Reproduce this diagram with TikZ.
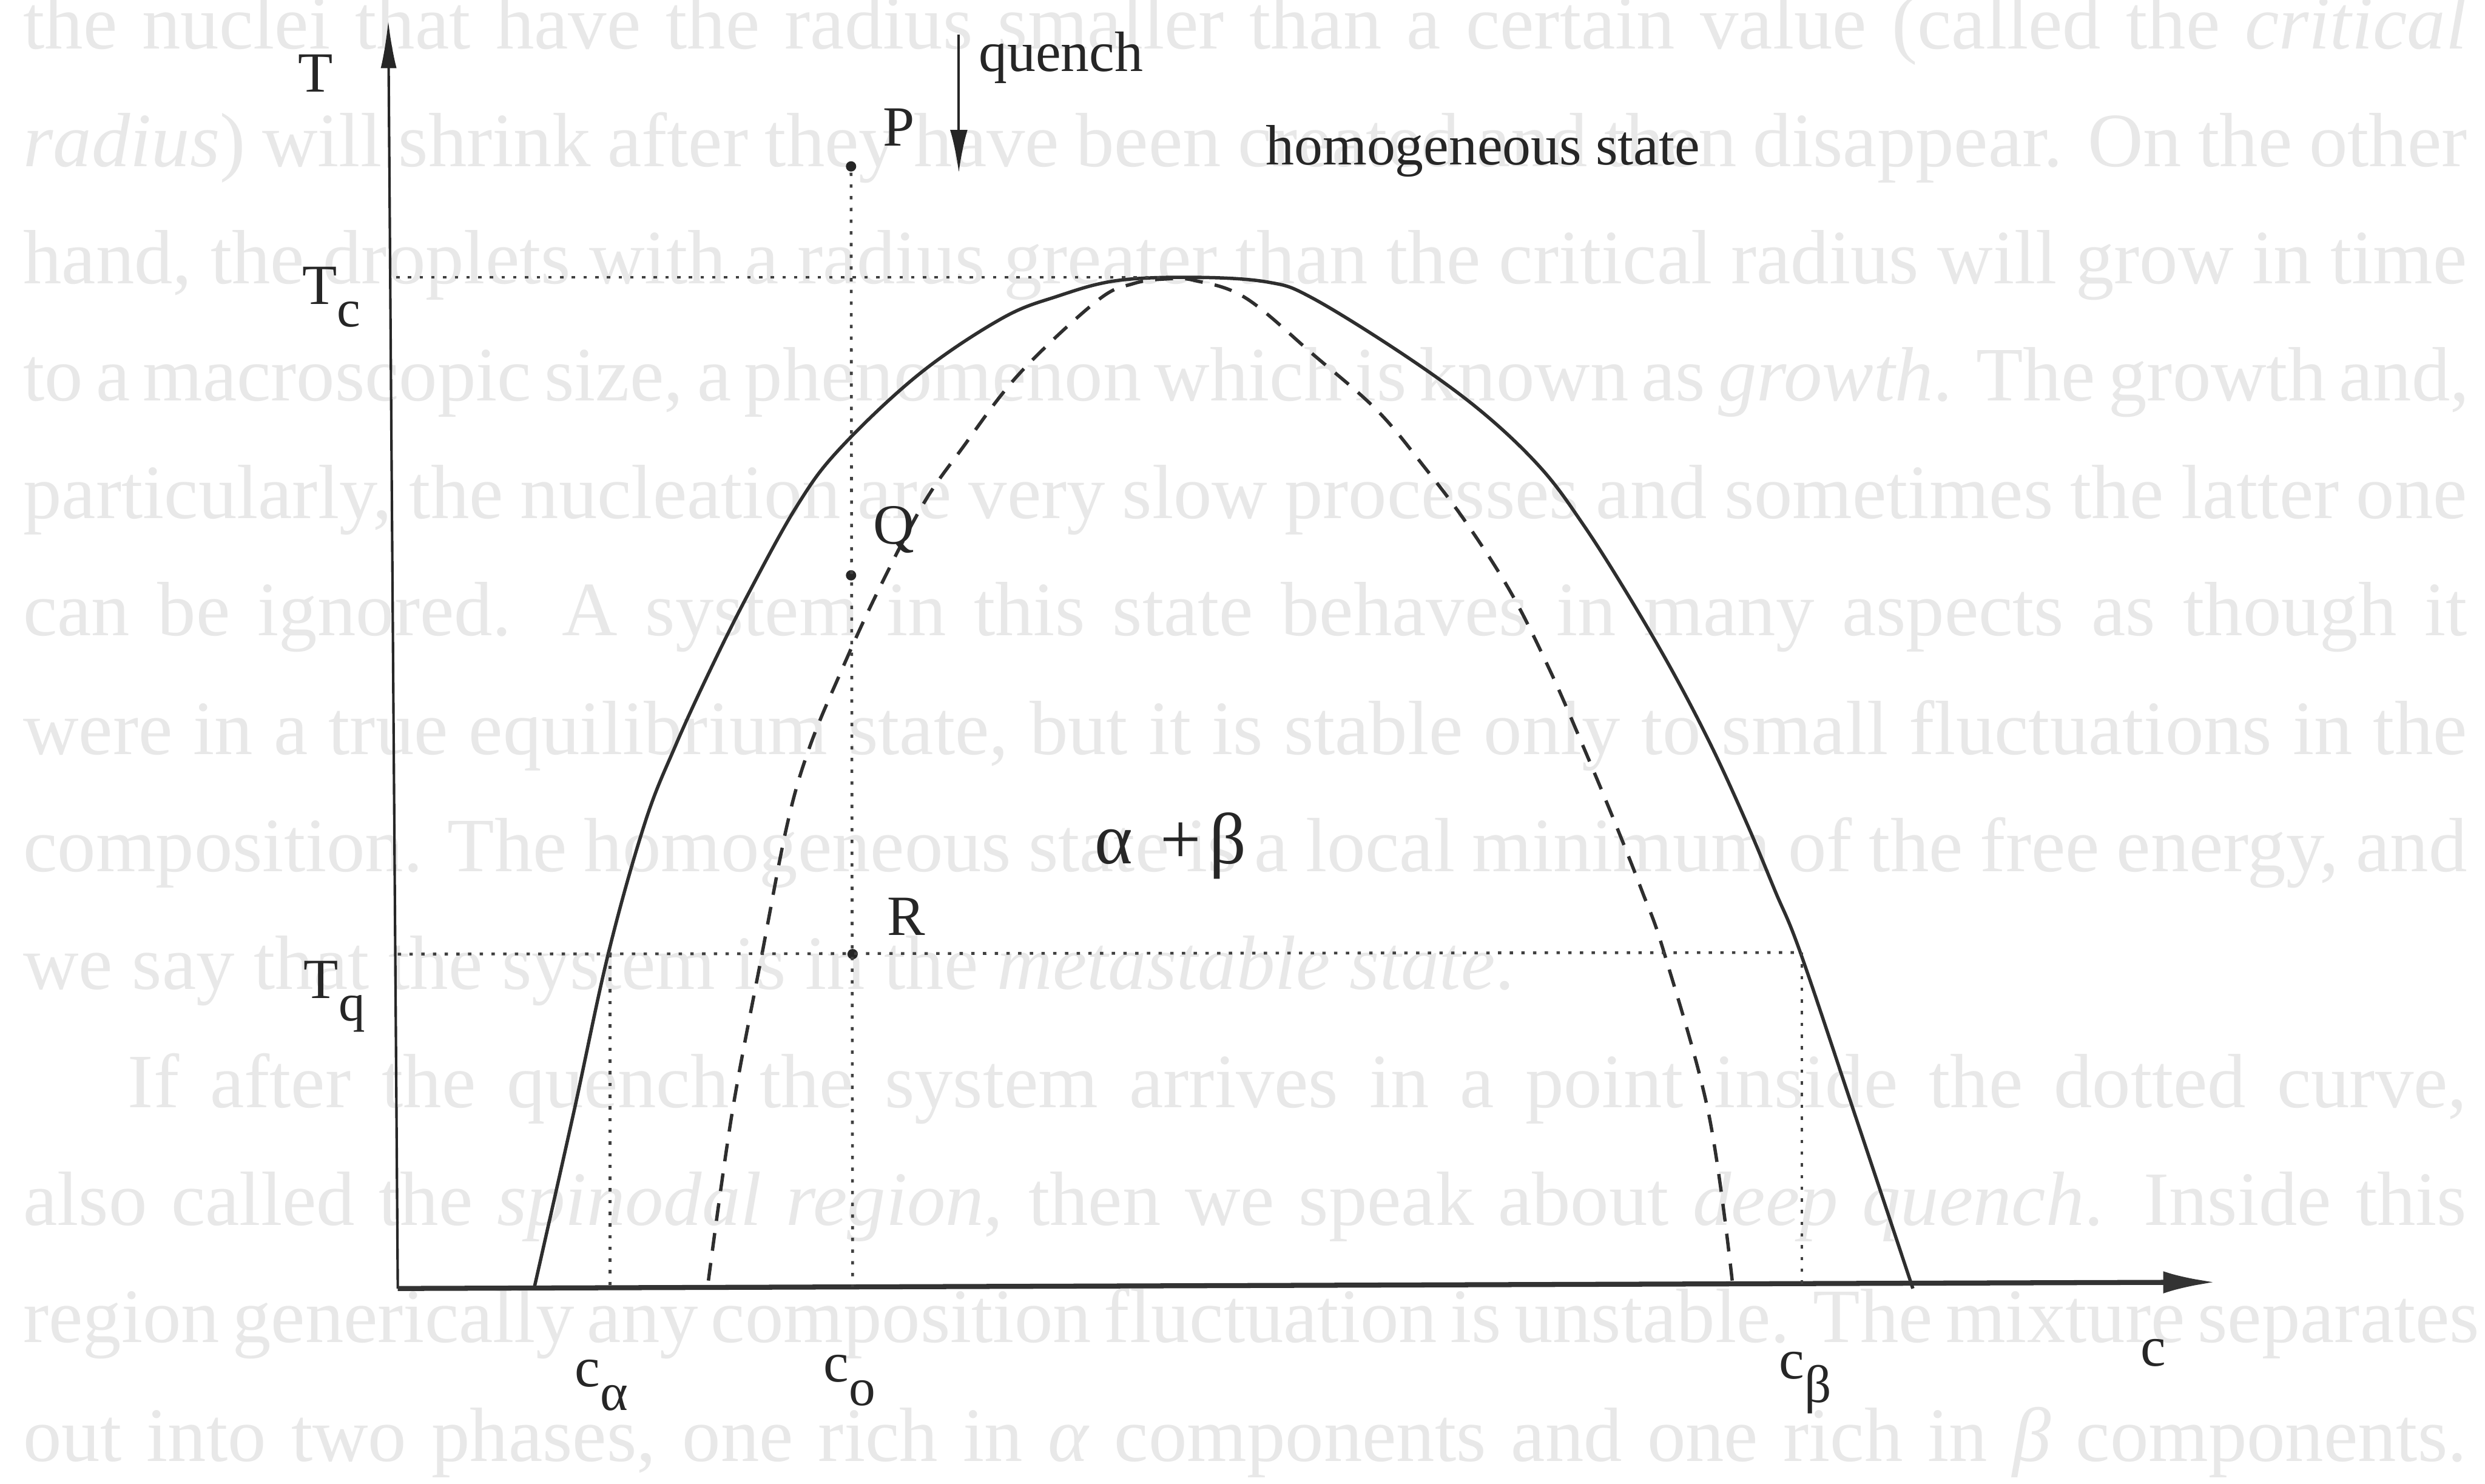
\documentclass[tikz,border=0pt]{standalone}
\usepackage{fontspec}
\setmainfont{Liberation Serif}
\usetikzlibrary{arrows.meta}
\begin{document}
\begin{tikzpicture}[x=0.01cm,y=-0.01cm,
  lbl/.style={inner sep=0pt, font=\fontsize{10.2}{12}\selectfont, text=black!85},
  bg/.style={inner sep=0pt, anchor=base west, text=black!9, font=\fontsize{13.8}{16}\selectfont},
  yaxis/.style={draw=black!85, line width=0.45pt, -{Latex[length=0.3cm,width=0.1cm]}},
  xaxis/.style={draw=black!80, line width=0.9pt, -{Latex[length=0.33cm,width=0.14cm]}},
  quencharrow/.style={draw=black!85, line width=0.45pt, -{Latex[length=0.27cm,width=0.11cm]}},
  binodal/.style={draw=black!82, line width=0.6pt},
  spinodal/.style={draw=black!82, line width=0.6pt, dash pattern=on 3.2pt off 2.2pt},
  guide/.style={draw=black!75, line width=0.5pt, dash pattern=on 0.6pt off 1.5pt},
  dotpt/.style={circle, fill=black!85, inner sep=0pt, minimum size=0.065cm},
]
\useasboundingbox (0,0) rectangle (1568,936);
\fill[white] (0,0) rectangle (1568,936);

% faded page text behind the figure
\node[bg] (bg1) at (14,31) {\makebox[15.41cm][s]{the nuclei that have the radius smaller than a certain value (called the \textit{critical}}};
\node[bg] (bg2) at (14,105) {\makebox[15.41cm][s]{\textit{radius}) will shrink after they have been created and then disappear. On the other}};
\node[bg] (bg3) at (14,179) {\makebox[15.41cm][s]{hand, the droplets with a radius greater than the critical radius will grow in time}};
\node[bg] (bg4) at (14,253) {\makebox[15.41cm][s]{to a macroscopic size, a phenomenon which is known as \textit{growth}. The growth and,}};
\node[bg] (bg5) at (14,327) {\makebox[15.41cm][s]{particularly, the nucleation are very slow processes and sometimes the latter one}};
\node[bg] (bg6) at (14,401) {\makebox[15.41cm][s]{can be ignored. A system in this state behaves in many aspects as though it}};
\node[bg] (bg7) at (14,476) {\makebox[15.41cm][s]{were in a true equilibrium state, but it is stable only to small fluctuations in the}};
\node[bg] (bg8) at (14,550) {\makebox[15.41cm][s]{composition. The homogeneous state is a local minimum of the free energy, and}};
\node[bg] (bg9) at (14,624) {we say that the system is in the \textit{metastable state}.};
\node[bg] (bg10) at (80,699) {\makebox[14.75cm][s]{If after the quench the system arrives in a point inside the dotted curve,}};
\node[bg] (bg11) at (14,773) {\makebox[15.41cm][s]{also called the \textit{spinodal region}, then we speak about \textit{deep quench}. Inside this}};
\node[bg] (bg12) at (14,847) {\makebox[15.41cm][s]{region generically any composition fluctuation is unstable. The mixture separates}};
\node[bg] (bg13) at (14,922) {\makebox[15.41cm][s]{out into two phases, one rich in \textit{α} components and one rich in \textit{β} components.}};

% coordinates
\coordinate (O) at (251,813);
\coordinate (Ytop) at (245,13);
\coordinate (Xend) at (1398,809);
\coordinate (TcL) at (250,175);
\coordinate (TcR) at (732,175);
\coordinate (TqL) at (251,602);
\coordinate (TqR) at (1137,601);
\coordinate (ca) at (385,812);
\coordinate (caT) at (385,602);
\coordinate (cb) at (1137,810);
\coordinate (co) at (538,812);
\coordinate (qtop) at (605,22);
\coordinate (qtip) at (605,109);

% binodal (solid)
\draw[binodal] plot[smooth, tension=0.6] coordinates {
 (337,813) (362,702) (384,601) (407,519) (426,471) (448,423)
 (472,375) (503,319) (530,283) (580,236) (632,201) (667,187) (705,177) (755,175)
 (800,178) (828,188) (886,224) (934,259) (972,295) (999,331) (1027,375) (1055,423)
 (1080,471) (1102,519) (1120,562) (1136,601) (1170,702) (1207,813)};

% spinodal (dashed)
\draw[spinodal] plot[smooth, tension=0.6] coordinates {
 (447,808) (462,702) (481,601) (497,519) (511,471) (531,423) (553,375)
 (582,319) (607,283) (643,236) (692,190) (715,179) (736,176) (754,177) (786,188)
 (829,224) (869,259) (899,295) (926,331) (954,375) (978,423) (999,471) (1019,519)
 (1036,562) (1050,601) (1078,702) (1093,808)};

% axes
\draw[yaxis] (O) -- (Ytop);
\draw[xaxis] (O) -- (Xend);

% points
\node[dotpt] (P) at (537,105) {};
\node[dotpt] (Q) at (537,363) {};
\node[dotpt] (R) at (538,602) {};

% guide lines
\draw[guide] (TcL) -- (TcR);
\draw[guide] (TqL) -- (TqR);
\draw[guide] (P) -- (co);
\draw[guide] (caT) -- (ca);
\draw[guide] (TqR) -- (cb);

% quench arrow
\draw[quencharrow] (qtop) -- (qtip);

% labels
\node[lbl, anchor=base] (Tlab) at (199,58) {T};
\node[lbl, anchor=base west] (Tclab) at (190,192) {T\raisebox{-0.85ex}{\fontsize{9.5}{10}\selectfont c}};
\node[lbl, anchor=base west] (Tqlab) at (191,630) {T\raisebox{-0.85ex}{\fontsize{9.5}{10}\selectfont q}};
\node[lbl, anchor=base west] (quenchlab) at (617,45) {quench};
\node[lbl, anchor=base] (Plab) at (567,92) {P};
\node[lbl, anchor=base west] (homlab) at (798,104) {homogeneous state};
\node[lbl, anchor=base] (Qlab) at (564,343) {Q};
\node[lbl, anchor=base] (Rlab) at (572,590) {R};
\node[lbl, anchor=base west, font=\fontsize{13}{15}\selectfont] (ablab) at (690,545) {α\hspace{5pt}+\hspace{1.5pt}β};
\node[lbl, anchor=base west] (calab) at (362,875) {c\raisebox{-0.9ex}{\fontsize{9.5}{10}\selectfont α}};
\node[lbl, anchor=base west] (colab) at (519,872) {c\raisebox{-0.9ex}{\fontsize{9.5}{10}\selectfont o}};
\node[lbl, anchor=base west] (cblab) at (1122,870) {c\raisebox{-0.9ex}{\fontsize{9.5}{10}\selectfont β}};
\node[lbl, anchor=base west] (clab) at (1350,862) {c};
\end{tikzpicture}
\end{document}
